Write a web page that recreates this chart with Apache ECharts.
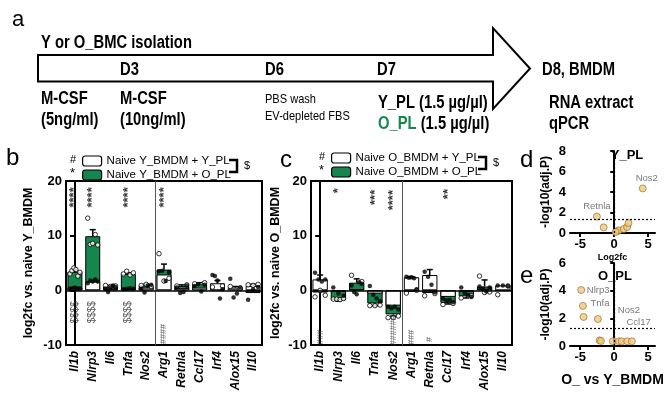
<!DOCTYPE html>
<html>
<head>
<meta charset="utf-8">
<script src="https://cdn.jsdelivr.net/npm/echarts@6/dist/echarts.min.js"></script>
<style>
  html, body { margin: 0; padding: 0; background: #fff; }
  #fig { width: 669px; height: 396px; }
</style>
</head>
<body>
<div id="fig"></div>
<script>
// genes on the x axis of panels b and c
const genes = ['Il1b', 'Nlrp3', 'Il6', 'Tnfa', 'Nos2', 'Arg1', 'Retnla', 'Ccl17', 'Irf4', 'Alox15', 'Il10'];

// panel b: naive Y_BMDM, mean log2fc
const bYPL = [0.5, 1.6, 0.3, 0.3, 0.5, 2.9, 0.4, 0.5, 1.3, 0.5, 0.8];
const bOPL = [3.4, 9.9, 0.7, 3.0, 0.9, 3.8, 0.8, 1.1, 0.2, 0.3, -0.5];
const bYErr = [0, 0, 0, 0, 0, 0, 0, 0, 0.5, 0.2, 0.3];
const bOErr = [0.4, 1.2, 0.2, 0.2, 0.2, 1.0, 0.2, 0.3, 0, 0, 0];
// replicate points (open circles / filled dots), per gene
const bOpen = [[3.0, 3.6, 4.1, 3.8, 2.6, 3.3], [13.2, 8.4, 8.6, 10.2, 8.3], [0.9, 0.7, 0.8], [3.0, 3.5, 2.8, 3.2], [0.9, 1.1, 0.7],
  [6.7, 1.7, 2.2], [0.8, 1.0], [1.2, 1.4], [0.6, 0.8], [0.7, 0.4], [1.0, 0.9, 1.1]];
const bFilled = [[0.3, 0.4, 0.5, 0.3, 0.4], [1.3, 1.8, 1.6, 2.0, 1.6], [0.3, -0.3, 0.5, 0.9, 0.6], [0.2, 0.3, 0.4, 0.3], [0.3, -0.4, 0.9, 1.0],
  [3.5, 3.6, 1.7, 3.3], [0.5, -0.5, -0.3, 0.9], [0.8, 1.1, -0.2, 1.0], [2.8, 2.6, 1.8, -1.5, 0.2], [2.1, -1.3, -0.6, 0.5], [-1.7, 0.2, 0.6]];
const bMarks = [[0, 17, '****'], [1, 17, '****'], [3, 17, '****'], [5, 17, '****']];
const bDollar = [[0, -4, '$$$$'], [1, -4, '$$$$'], [3, -4, '$$$$']];
const bHash = [[5, -8, '####']];

// panel c: naive O_BMDM
const cYPL = [2.0, -0.3, 0.2, -0.6, -2.8, 2.4, 2.8, -1.2, -0.3, 0.3, 0.9];
const cOPL = [-0.4, -1.8, 1.4, -2.4, -4.4, -0.3, -0.5, -2.3, -1.1, 0.7, 0.0];
const cYErr = [0.8, 0, 0, 0, 0, 0.1, 1.0, 0, 0, 0, 0];
const cOErr = [0, 0.2, 0.7, 0.4, 0.3, 0, 0, 0.2, 0.3, 1.2, 0];
const cOpen = [[-1.2, 0.0, -0.9], [-1.6, -1.6, -1.7, -1.5], [2.75, 1.6], [-2.8, -2.8, -2.7], [-5.0, -5.0, -4.7],
  [-0.5, 0.0], [-1.0, -0.6], [-2.6, -2.4], [-1.4, -1.0], [2.6, -0.4, -0.3], [-0.8, 0.8]];
const cFilled = [[3.2, 2.0, 1.6, 2.0], [0.5, -0.6, -1.0], [0.9, -0.3, -0.7, 1.5, 1.2], [0.8, -0.8, -1.5, -2.0], [-3.0, -3.3, -3.0, -3.5],
  [2.5, 2.3, 2.4, 2.2, 0.2], [3.4, 2.5, 1.0, -0.4], [-1.5, -1.8, -1.7, -2.2], [0.5, -0.5, -0.8, -1.2], [0.7, 0.3, -0.2, 0.5], [0.9, 0.9, 0.8]];
const cMarks = [[1, 18.2, '*'], [3, 17, '***'], [4, 16.5, '****'], [7, 17.6, '**']];
const cHash = [[0, -8.6, '###'], [4, -7.3, '######'], [5, -8.6, '###'], [6, -9, '#']];

// panels d / e volcano: [log2fc, -log10(adj.P), label]
const dPoints = [[4.2, 4.35, 'Nos2'], [-2.55, 1.6, 'Retnla'], [-1.55, 0.55, ''], [0.4, 0.16, ''], [0.7, 0.26, ''],
  [1.4, 0.39, ''], [1.9, 0.58, ''], [2.1, 0.97, ''], [0.2, 0.1, '']];
const ePoints = [[-4.85, 4.05, 'Nlrp3'], [-4.6, 2.9, 'Tnfa'], [-4.5, 2.1, 'Ccl17'], [-2.4, 1.95, 'Nos2'], [-2.15, 0.41, ''],
  [-1.95, 0.36, ''], [-0.2, 0.34, ''], [0.7, 0.34, ''], [1.1, 0.34, ''], [1.9, 0.34, ''], [2.6, 0.34, '']];
const sigLine = 1.3;
// where each volcano label sits relative to its point (px)
const labelOffset = { Nos2d: [4, -10], Retnla: [0, -10], Nlrp3: [17, 0], Tnfa: [17, -3], Nos2e: [31, -9], Ccl17: [55, 5] };

const FONT = 'Liberation Sans, Arial, sans-serif';
const GREEN = '#15864c';

const chart = echarts.init(document.getElementById('fig'));

function spread(groups) {
  const out = [];
  groups.forEach((ys, i) => {
    const n = ys.length;
    ys.forEach((y, k) => {
      const off = n > 1 ? -0.28 + 0.56 * k / (n - 1) : 0;
      out.push([i + off, y]);
    });
  });
  return out;
}

function errItem(params, api) {
  const x = api.value(0), m = api.value(1), e = api.value(2);
  if (!e) return null;
  const end = m >= 0 ? m + e : m - e;
  const p0 = api.coord([x, m]), p1 = api.coord([x, end]);
  return {
    type: 'group',
    children: [
      { type: 'line', shape: { x1: p0[0], y1: p0[1], x2: p1[0], y2: p1[1] }, style: { stroke: '#000', lineWidth: 1.5 } },
      { type: 'line', shape: { x1: p1[0] - 3, y1: p1[1], x2: p1[0] + 3, y2: p1[1] }, style: { stroke: '#000', lineWidth: 1.5 } }
    ]
  };
}

function barPanel(k, names, yV, oV, yE, oE, open, filled, marks) {
  const catX = k * 2, valX = k * 2 + 1;
  const list = [
    { name: names[1], type: 'bar', xAxisIndex: catX, yAxisIndex: k, data: oV, barGap: '-100%', barCategoryGap: '16%',
      itemStyle: { color: GREEN, borderColor: '#000', borderWidth: 1 }, z: 2 },
    { name: names[0], type: 'bar', xAxisIndex: catX, yAxisIndex: k, data: yV, barGap: '-100%', barCategoryGap: '16%',
      itemStyle: { color: '#fff', borderColor: '#000', borderWidth: 1 }, z: 2 },
    { type: 'custom', xAxisIndex: valX, yAxisIndex: k, renderItem: errItem, z: 3,
      data: oV.map((v, i) => [i, v, oE[i]]).concat(yV.map((v, i) => [i, v, yE[i]])) },
    { type: 'scatter', xAxisIndex: valX, yAxisIndex: k, data: spread(open), symbolSize: 4.5, z: 4,
      itemStyle: { color: '#fff', borderColor: '#000', borderWidth: 1 },
      markLine: { silent: true, symbol: 'none', label: { show: false },
        data: [{ xAxis: 4.5, lineStyle: { color: '#555', width: 1, type: 'solid' } },
               { yAxis: 0, lineStyle: { color: '#000', width: 1.5, type: 'solid' } }] } },
    { type: 'scatter', xAxisIndex: valX, yAxisIndex: k, data: spread(filled), symbolSize: 4.5, z: 4,
      itemStyle: { color: '#000' } }
  ];
  marks.forEach(m => {
    list.push({
      type: 'scatter', xAxisIndex: valX, yAxisIndex: k, symbolSize: 1, z: 5,
      itemStyle: { color: 'transparent' },
      data: m.data.map(d => ({ value: [d[0], d[1]], name: d[2] })),
      label: { show: true, position: 'inside', rotate: 90, formatter: p => p.name,
        fontFamily: FONT, fontSize: m.size, fontWeight: m.weight, color: m.color }
    });
  });
  return list;
}

function volcano(k, pts) {
  return {
    type: 'scatter', xAxisIndex: 4 + k, yAxisIndex: 2 + k, symbolSize: 7, z: 4,
    itemStyle: { color: '#f2c77e', borderColor: '#8a6a2c', borderWidth: 0.8 },
    data: pts.map(p => {
      const key = labelOffset[p[2]] ? p[2] : p[2] + (k ? 'e' : 'd');
      return {
        value: [p[0], p[1]], name: p[2],
        label: { show: p[2] !== '', position: 'inside', offset: labelOffset[key] || [0, 0] }
      };
    }),
    label: { formatter: p => p.name, fontFamily: FONT, fontSize: 9.5, color: '#555' },
    markLine: { silent: true, symbol: 'none', label: { show: false },
      lineStyle: { color: '#000', width: 1.2, type: [2, 2] },
      data: [{ yAxis: sigLine }, { xAxis: 0 }] }
  };
}

function catAxis(grid) {
  return {
    type: 'category', gridIndex: grid, data: genes, position: 'bottom',
    axisLine: { onZero: false, lineStyle: { color: '#000', width: 2 } },
    axisTick: { show: false },
    axisLabel: { rotate: 90, interval: 0, fontFamily: FONT, fontSize: 12, fontStyle: 'italic', fontWeight: 'bold', color: '#000', margin: 6 }
  };
}
function hiddenAxis(grid) {
  return { type: 'value', gridIndex: grid, min: -0.5, max: 10.5, show: false };
}
function barY(grid, name, gap) {
  return {
    type: 'value', gridIndex: grid, min: -10, max: 20, interval: 10,
    name: name, nameLocation: 'middle', nameGap: gap,
    nameTextStyle: { fontFamily: FONT, fontSize: 12.5, fontWeight: 'bold', color: '#000' },
    axisLine: { show: true, lineStyle: { color: '#000', width: 2 } },
    axisTick: { show: true, length: 5, lineStyle: { width: 2 } },
    splitLine: { show: false },
    axisLabel: { fontFamily: FONT, fontSize: 13, fontWeight: 'bold', color: '#000', margin: 4 }
  };
}
function volX(grid, name, gap, nsize) {
  return {
    type: 'value', gridIndex: grid, min: -6.5, max: 6,
    name: name, nameLocation: 'middle', nameGap: gap,
    nameTextStyle: { fontFamily: FONT, fontSize: nsize, fontWeight: 'bold', color: '#000' },
    axisLine: { onZero: true, lineStyle: { color: '#000', width: 2 } },
    axisTick: { show: true, length: 4, lineStyle: { width: 2 }, customValues: [-5, 0, 5] },
    axisLabel: { customValues: [-5, 0, 5], fontFamily: FONT, fontSize: 13, fontWeight: 'bold', color: '#000', margin: 5 },
    splitLine: { show: false }
  };
}
function volY(grid, max) {
  return {
    type: 'value', gridIndex: grid, min: 0, max: max, interval: 2,
    name: '-log10(adj.P)', nameLocation: 'middle', nameGap: 18,
    nameTextStyle: { fontFamily: FONT, fontSize: 12, fontWeight: 'bold', color: '#000' },
    axisLine: { show: true, lineStyle: { color: '#000', width: 2 } },
    axisTick: { show: true, length: 4, lineStyle: { width: 2 } },
    axisLabel: { fontFamily: FONT, fontSize: 13, fontWeight: 'bold', color: '#000', margin: 4 },
    splitLine: { show: false }
  };
}

function t(x, y, text, size, weight, extra) {
  return Object.assign({
    type: 'text', x: x, y: y,
    style: Object.assign({ text: text, fontFamily: FONT, fontSize: size, fontWeight: weight || 'normal', fill: '#000', verticalAlign: 'middle' },
      (extra && extra.style) || {})
  }, extra && extra.scaleX ? { scaleX: extra.scaleX } : {});
}
// condensed look of panel a
function tn(x, y, text, size, weight) {
  return t(x, y, text, size, weight, { scaleX: 0.82 });
}

const bNames = ['Naive Y_BMDM + Y_PL', 'Naive Y_BMDM + O_PL'];
const cNames = ['Naive O_BMDM + Y_PL', 'Naive O_BMDM + O_PL'];

const legendBase = {
  orient: 'vertical', padding: 0, itemWidth: 19, itemHeight: 10, itemGap: 2, selectedMode: false,
  textStyle: { fontFamily: FONT, fontSize: 11.5, lineHeight: 10, color: '#000' },
  itemStyle: { borderColor: '#000', borderWidth: 1.2 }
};

const option = {
  animation: false,
  backgroundColor: '#fff',
  grid: [
    { left: 66, top: 181, width: 196, height: 164, show: true, borderColor: '#000', borderWidth: 2 },
    { left: 311, top: 181, width: 201, height: 164, show: true, borderColor: '#000', borderWidth: 2 },
    { left: 570, top: 151, width: 85, height: 82 },
    { left: 570, top: 263, width: 85, height: 83 }
  ],
  legend: [
    Object.assign({ data: bNames, left: 82, top: 155 }, legendBase),
    Object.assign({ data: cNames, left: 331, top: 152 }, legendBase)
  ],
  xAxis: [catAxis(0), hiddenAxis(0), catAxis(1), hiddenAxis(1),
    volX(2, 'Log2fc', 20, 9), volX(3, 'O_ vs Y_BMDM', 27, 14)],
  yAxis: [barY(0, 'log2fc vs. naive Y_BMDM', 31), barY(1, 'log2fc vs. naive O_BMDM', 29),
    volY(2, 8), volY(3, 6)],
  series: [].concat(
    barPanel(0, bNames, bYPL, bOPL, bYErr, bOErr, bOpen, bFilled, [
      { data: bMarks, size: 13, weight: 'bold', color: '#000' },
      { data: bDollar, size: 10, weight: 'normal', color: '#333' },
      { data: bHash, size: 9, weight: 'normal', color: '#333' }
    ]),
    barPanel(1, cNames, cYPL, cOPL, cYErr, cOErr, cOpen, cFilled, [
      { data: cMarks, size: 13, weight: 'bold', color: '#000' },
      { data: cHash, size: 9, weight: 'normal', color: '#333' }
    ]),
    [volcano(0, dPoints), volcano(1, ePoints)]
  ),
  graphic: [
    // panel a: timeline arrow
    { type: 'polygon', shape: { points: [[38, 55], [493, 55], [493, 28], [530, 68.5], [493, 109], [493, 81.5], [38, 81.5]] },
      style: { fill: '#fff', stroke: '#000', lineWidth: 2 } },
    t(12, 20, 'a', 22),
    tn(41, 43, 'Y or O_BMC isolation', 18, 'bold'),
    tn(120, 70, 'D3', 18, 'bold'),
    tn(265, 70, 'D6', 18, 'bold'),
    tn(377, 70, 'D7', 18, 'bold'),
    tn(542, 70, 'D8, BMDM', 18, 'bold'),
    tn(41, 99, 'M-CSF', 18, 'bold'),
    tn(41, 120, '(5ng/ml)', 18, 'bold'),
    tn(120, 99, 'M-CSF', 18, 'bold'),
    tn(120, 120, '(10ng/ml)', 18, 'bold'),
    t(265, 99, 'PBS wash', 13, 'normal', { scaleX: 0.85 }),
    t(265, 116, 'EV-depleted FBS', 13, 'normal', { scaleX: 0.85 }),
    tn(378, 103, 'Y_PL (1.5 µg/µl)', 18, 'bold'),
    { type: 'text', x: 378, y: 124, scaleX: 0.82,
      style: { text: '{g|O_PL} (1.5 µg/µl)', fontFamily: FONT, fontSize: 18, fontWeight: 'bold', fill: '#000', verticalAlign: 'middle',
        rich: { g: { fill: GREEN, fontFamily: FONT, fontSize: 18, fontWeight: 'bold' } } } },
    tn(549, 103, 'RNA extract', 18, 'bold'),
    tn(549, 124, 'qPCR', 18, 'bold'),
    // panel letters
    t(6, 158, 'b', 24),
    t(280, 160, 'c', 24),
    t(520, 160, 'd', 24),
    t(520, 276, 'e', 24),
    // legend prefixes and brackets
    t(70, 160, '#', 11),
    t(70, 173, '*', 13),
    t(319, 157, '#', 11),
    t(319, 170, '*', 13),
    { type: 'polyline', shape: { points: [[229, 160], [237, 160], [237, 172], [229, 172]] }, style: { stroke: '#000', lineWidth: 2.5, fill: null } },
    t(244, 166, '$', 11),
    { type: 'polyline', shape: { points: [[478, 157], [486, 157], [486, 169], [478, 169]] }, style: { stroke: '#000', lineWidth: 2.5, fill: null } },
    t(493, 163, '$', 11),
    // volcano titles
    t(627, 155, 'Y_PL', 13, 'bold', { style: { align: 'center' } }),
    t(615, 276, 'O_PL', 13, 'bold', { style: { align: 'center' } })
  ]
};

chart.setOption(option);
</script>
</body>
</html>
